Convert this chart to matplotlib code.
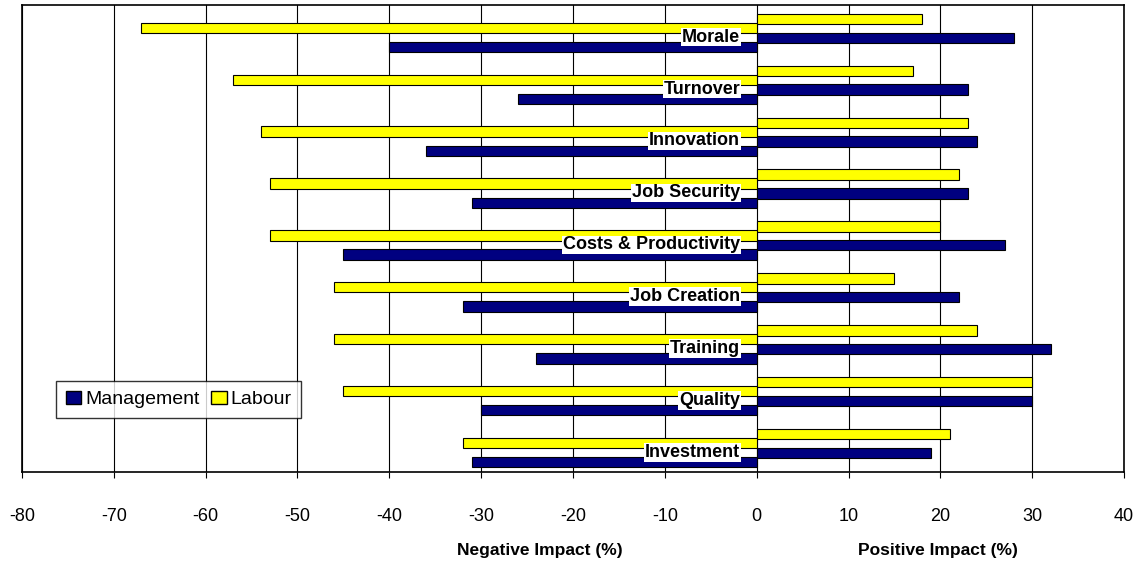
import matplotlib.pyplot as plt
import numpy as np

categories = ["Morale","Turnover","Innovation","Job Security","Costs & Productivity",
              "Job Creation","Training","Quality","Investment"]
lab_neg = [-67,-57,-54,-53,-53,-46,-46,-45,-32]
lab_pos = [18,17,23,22,20,15,24,30,21]
man_neg = [-40,-26,-36,-31,-45,-32,-24,-30,-31]
man_pos = [28,23,24,23,27,22,32,30,19]

plt.rcParams['font.family'] = ['Liberation Sans','DejaVu Sans']
plt.rcParams['axes.unicode_minus'] = False
fig = plt.figure(figsize=(11.45,5.69), dpi=100)
ax = fig.add_axes([22/1145, 1-472/569, 1102/1145, 467/569])
n = len(categories)
top = np.arange(n)
h = 0.2
kw = dict(height=h, edgecolor='black', linewidth=0.8)
ax.barh(top+0.27, lab_pos, color='#ffff00', **kw)
ax.barh(top+0.63, man_pos, color='#000080', **kw)
ax.barh(top+0.44, lab_neg, color='#ffff00', **kw)
ax.barh(top+0.81, man_neg, color='#000080', **kw)
for i, c in enumerate(categories):
    ax.text(-1.8, i+0.62, c, ha='right', va='center', fontsize=13, fontweight='bold',
            bbox=dict(facecolor='white', edgecolor='none', pad=0.5))
ax.set_ylim(n, 0)
ax.set_xlim(-80, 40)
ax.set_xticks(range(-80, 41, 10))
ax.set_yticks([])
ax.tick_params(axis='x', labelsize=13, length=4, pad=22)
ax.grid(axis='x', color='black', linewidth=0.8)
ax.set_axisbelow(True)
for s in ax.spines.values():
    s.set_linewidth(1.2)
from matplotlib.patches import Patch
ax.legend(handles=[Patch(facecolor='#000080', edgecolor='black', label='Management'),
                   Patch(facecolor='#ffff00', edgecolor='black', label='Labour')],
          loc='lower left', bbox_to_anchor=(0.022, 0.095), ncol=2, fontsize=14,
          frameon=True, fancybox=False, edgecolor='black', handlelength=0.8,
          handletextpad=0.2, columnspacing=0.6, borderpad=0.5)
fig.text(540/1145, 1-551/569, "Negative Impact (%)", ha='center', va='center', fontsize=12.5, fontweight='bold')
fig.text(938/1145, 1-551/569, "Positive Impact (%)", ha='center', va='center', fontsize=12.5, fontweight='bold')
fig.savefig('out.png')
